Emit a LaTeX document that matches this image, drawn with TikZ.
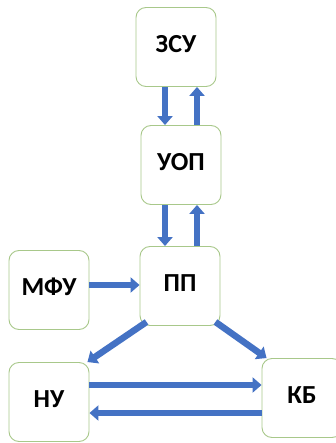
\documentclass[tikz,border=0pt]{standalone}
\usepackage{fontspec}
\setmainfont{Carlito}
\usetikzlibrary{arrows.meta}
\definecolor{boxline}{HTML}{A8C88A}
\definecolor{arrblue}{HTML}{4472C4}
\begin{document}
\begin{tikzpicture}[x=1pt,y=-1pt,
  blk/.style={draw=boxline,line width=0.9pt,rounded corners=10pt,fill=white,
    minimum width=80pt,minimum height=79pt,inner sep=0pt,
    font=\fontsize{26}{30}\selectfont\bfseries},
  lbl/.style={font=\fontsize{26}{30}\selectfont\bfseries,inner sep=0pt},
  arr/.style={draw=arrblue,line width=6.5pt,-{Triangle[width=15pt,length=9pt]}}]
\useasboundingbox (0,0) rectangle (335,443);
\node[blk] (zsu) at (176,47) {};
\node[blk] (uop) at (181,165) {};
\node[blk] (pp) at (180,286) {};
\node[blk] (mfu) at (49,290) {};
\node[blk] (nu) at (49,402) {};
\node[blk] (kb) at (302,398) {};
\node[lbl] (tzsu) at ([yshift=3pt]zsu.center) {ЗСУ};
\node[lbl] (tuop) at ([yshift=3pt]uop.center) {УОП};
\node[lbl] (tpp) at ([yshift=3pt]pp.center) {ПП};
\node[lbl] (tmfu) at ([yshift=3pt]mfu.center) {МФУ};
\node[lbl] (tnu) at ([yshift=3pt]nu.center) {НУ};
\node[lbl] (tkb) at ([yshift=3pt]kb.center) {КБ};
\draw[arr] ([xshift=-11pt]zsu.south) -- ([xshift=-11pt]zsu.south |- uop.north);
\draw[arr] ([xshift=16pt]uop.north) -- ([xshift=16pt]uop.north |- zsu.south);
\draw[arr] ([xshift=-16pt]uop.south) -- ([xshift=-16pt]uop.south |- pp.north);
\draw[arr] ([xshift=16pt]uop.south |- pp.north) -- ([xshift=16pt]uop.south);
\draw[arr] ([yshift=5pt]mfu.east) -- ([yshift=5pt]mfu.east -| pp.west);
\draw[arr] ([xshift=7pt,yshift=4pt]pp.south west) -- ([xshift=-2pt]nu.north east);
\draw[arr] ([xshift=-5pt,yshift=4pt]pp.south east) -- ([xshift=5pt]kb.north west);
\draw[arr] ([yshift=17pt]nu.east) -- ([yshift=17pt]nu.east -| kb.west);
\draw[arr] ([yshift=-11pt]nu.east -| kb.west) -- ([yshift=-11pt]nu.east);
\end{tikzpicture}
\end{document}
